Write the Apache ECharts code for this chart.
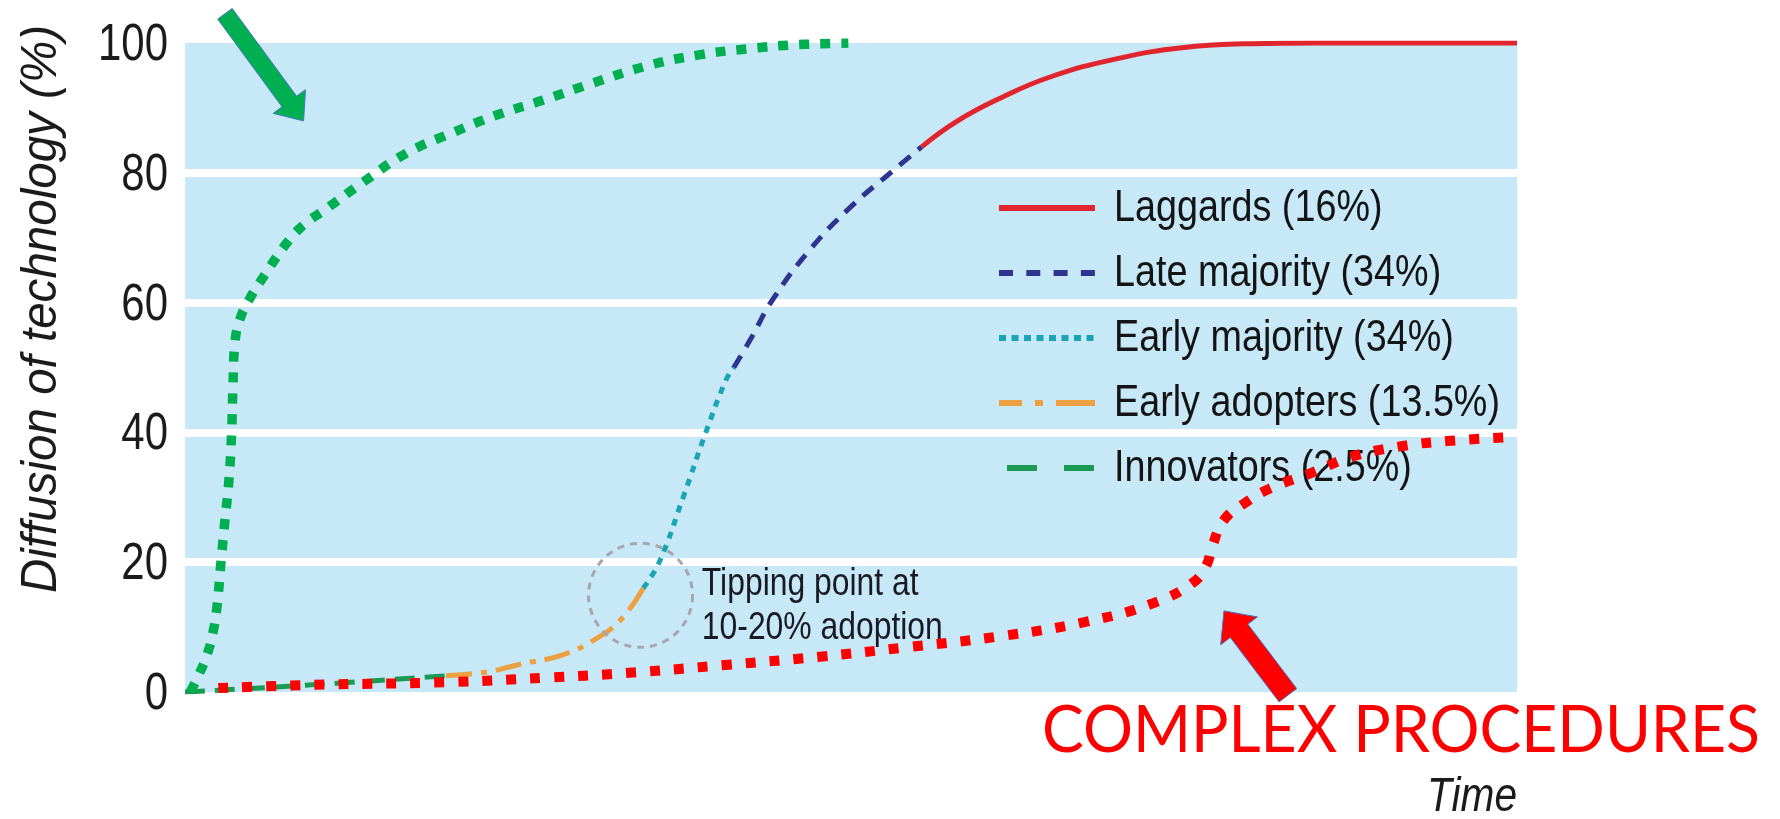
<!DOCTYPE html>
<html>
<head>
<meta charset="utf-8">
<script src="https://cdn.jsdelivr.net/npm/echarts@6/dist/echarts.min.js"></script>
<style>
  html, body { margin: 0; padding: 0; background: #ffffff; }
  #chart { width: 1780px; height: 819px; }
</style>
</head>
<body>
<div id="chart"></div>
<script>
// Diffusion of innovation curve, split by adopter category, with two overlaid
// adoption paths: a fast one (green) and a slow one for complex procedures (red).

const SANS = '"Liberation Sans", Arial, sans-serif';
const CALLOUT = 'Lato, "Open Sans", sans-serif';

const yTicks = [0, 20, 40, 60, 80, 100];

// Adopter categories (segments of the cumulative S-curve), x = time (0-100), y = % adoption
const innovators     = [[0, 0], [9.5, 1.1], [19.6, 2.5]];
const earlyAdopters  = [[19.6, 2.5], [22.7, 3.1], [25.0, 4.2], [28.3, 5.7], [30.7, 8.0], [32.7, 11.1], [34.4, 16]];
const earlyMajority  = [[34.4, 16], [35.6, 20], [37.4, 30], [39.1, 40], [40.6, 48], [41.2, 50]];
const lateMajority   = [[41.2, 50], [42.5, 54.5], [44.1, 60.4], [46.9, 68.1], [49.9, 74.6], [53.2, 80.4], [55.3, 84]];
const laggards       = [[55.3, 84], [58, 88], [61.2, 91.5], [65, 94.8], [70, 97.6], [75, 99.3], [80, 99.9], [85, 100], [100, 100]];

const categoryNames = ['Innovators (2.5%)', 'Early adopters (13.5%)', 'Early majority (34%)', 'Late majority (34%)', 'Laggards (16%)'];
const categoryColors = ['#1a9a52', '#eca042', '#1ba4b6', '#2e3590', '#e1252f'];

// Fast adoption path
const fastAdoption = [[0.4, 0], [1.0, 2.5], [1.65, 5.7], [2.1, 9.2], [2.4, 13.1], [2.7, 20], [3.0, 26.5], [3.3, 32.7],
  [3.5, 40], [3.6, 47], [3.75, 53.8], [4.1, 57.3], [4.8, 60.4], [5.9, 64], [7.8, 69.6], [9.1, 72.3], [10.5, 74.3],
  [13.4, 78.6], [16.6, 83], [20, 86.1], [23.4, 88.9], [26.9, 91.2], [30.3, 93.6], [34.9, 96.6], [38.7, 98.2],
  [42.2, 99.1], [45.6, 99.7], [49.8, 100]];

// Slow adoption path (complex procedures)
const complexAdoption = [[2.5, 0.6], [9.5, 1.1], [19.6, 1.5], [27, 2.2], [33.0, 2.9], [40.8, 4.2], [47.5, 5.4],
  [54.2, 6.9], [60.9, 8.5], [67.6, 10.8], [72.7, 13.7], [75.7, 16.9], [76.7, 19.6], [77.1, 22.3], [78.0, 26.5],
  [79.7, 29.3], [81.5, 31.4], [84.5, 33.7], [87.5, 36.2], [91.1, 37.8], [95.0, 38.7], [100, 39.3]];

// Annotation anchors in data coordinates
const tippingPoint = [34.2, 14.9];
const tippingLabelAt = [38.8, 20];
const greenArrow = { tail: [3.0, 104.5], tip: [8.9, 88.0] };
const redArrow = { tail: [82.8, -0.5], tip: [78.0, 12.5] };

// Key entries, top to bottom: category index and the dash pattern of its swatch
const keyOrder = [4, 3, 2, 1, 0];
const keyDash = [null, [14, 13.3], [7, 5.5], [23, 13, 8, 13, 40], [30, 27]];
const keyDashOffset = [0, 0, 0, 0, 49];

// Text measuring, used to set a condensed width for the narrow lettering
const measureCtx = document.createElement('canvas').getContext('2d');
function textWidth(text, font) { measureCtx.font = font; return measureCtx.measureText(text).width; }

const chart = echarts.init(document.getElementById('chart'), null, { renderer: 'canvas' });

function segment(i, data, type) {
  return {
    name: categoryNames[i], type: 'line', data: data, symbol: 'none', smooth: 0.45,
    z: 2, silent: true,
    lineStyle: { color: categoryColors[i], width: 5, type: type, cap: 'butt' },
    itemStyle: { color: categoryColors[i] }
  };
}

chart.setOption({
  animation: false,
  backgroundColor: '#ffffff',
  grid: { left: 185, right: 263, top: 43, bottom: 127, show: true, backgroundColor: '#c6e8f7', borderWidth: 0 },
  xAxis: {
    type: 'value', min: 0, max: 100,
    axisLine: { show: false }, axisTick: { show: false }, axisLabel: { show: false }, splitLine: { show: false }
  },
  yAxis: {
    type: 'value', min: yTicks[0], max: yTicks[yTicks.length - 1], interval: 20,
    axisLine: { show: false }, axisTick: { show: false }, axisLabel: { show: false },
    splitLine: { show: true, showMinLine: false, showMaxLine: false, lineStyle: { color: '#ffffff', width: 8 } }
  },
  series: [
    segment(0, innovators, [20, 10]),
    segment(1, earlyAdopters, [26, 9, 6, 9]),
    segment(2, earlyMajority, [7, 7]),
    segment(3, lateMajority, [14, 10]),
    segment(4, laggards, 'solid'),
    {
      name: 'fast', type: 'line', data: fastAdoption, symbol: 'none', smooth: 0.45, z: 6, silent: true,
      lineStyle: { color: '#00b050', width: 9.5, type: [10, 11], cap: 'butt' }
    },
    {
      name: 'complex', type: 'line', data: complexAdoption, symbol: 'none', smooth: 0.45, z: 7, silent: true,
      lineStyle: { color: '#ff0000', width: 10, type: [10, 14], cap: 'butt' }
    }
  ]
});

function arrowShape(tail, tip, shaftW, headW, headL) {
  const dx = tip[0] - tail[0], dy = tip[1] - tail[1];
  const len = Math.hypot(dx, dy);
  const ux = dx / len, uy = dy / len, nx = -uy, ny = ux;
  const bx = tip[0] - ux * headL, by = tip[1] - uy * headL;
  return [
    [tail[0] + nx * shaftW / 2, tail[1] + ny * shaftW / 2],
    [bx + nx * shaftW / 2, by + ny * shaftW / 2],
    [bx + nx * headW / 2, by + ny * headW / 2],
    [tip[0], tip[1]],
    [bx - nx * headW / 2, by - ny * headW / 2],
    [bx - nx * shaftW / 2, by - ny * shaftW / 2],
    [tail[0] - nx * shaftW / 2, tail[1] - ny * shaftW / 2]
  ];
}

const px = (p) => chart.convertToPixel({ gridIndex: 0 }, p);
const gridRect = chart.getModel().getComponent('grid', 0).coordinateSystem.getRect();
const tp = px(tippingPoint);
const tl = px(tippingLabelAt);

// Condensed lettering: each text block gets a horizontal squeeze
const tickFont = '51px ' + SANS;
const tickScale = 70 / textWidth('100', tickFont);
const legendFont = '44px ' + SANS;
const legendScale = 386 / textWidth(categoryNames[1], legendFont);
const noteFont = '39px ' + SANS;
const noteScale = 241 / textWidth('10-20% adoption', noteFont);
const yNameFont = 'italic 50px ' + SANS;
const yName = 'Diffusion of technology (%)';
const yNameScale = 568 / textWidth(yName, yNameFont);
const xNameFont = 'italic 49px ' + SANS;
const xNameScale = 90 / textWidth('Time', xNameFont);
const calloutFont = '65px ' + CALLOUT;
const callout = 'COMPLEX PROCEDURES';
const calloutScale = 718 / textWidth(callout, calloutFont);

const graphics = [];

yTicks.forEach((v) => {
  const p = px([0, v]);
  graphics.push({
    type: 'text', x: gridRect.x - 17, y: p[1] + 3, scaleX: tickScale, z: 5, silent: true,
    style: { text: String(v), font: tickFont, fill: '#1b1b1b', align: 'right', verticalAlign: 'middle' }
  });
});

// Key: swatch line plus label per adopter category
keyOrder.forEach((ci, row) => {
  const y = 208 + row * 65;
  graphics.push({
    type: 'line', z: 5, silent: true,
    shape: { x1: 999, y1: y, x2: 1095, y2: y },
    style: { stroke: categoryColors[ci], lineWidth: 6, lineDash: keyDash[row], lineDashOffset: keyDashOffset[row], lineCap: 'butt' }
  });
  graphics.push({
    type: 'text', x: 1114, y: y + 1, scaleX: legendScale, z: 5, silent: true,
    style: { text: categoryNames[ci], font: legendFont, fill: '#141414', align: 'left', verticalAlign: 'middle' }
  });
});

graphics.push(
  {
    type: 'circle', shape: { cx: tp[0], cy: tp[1], r: 52 }, z: 5, silent: true,
    style: { fill: 'none', stroke: '#a6a6ac', lineWidth: 3, lineDash: [7, 6] }
  },
  {
    type: 'text', x: tl[0], y: tl[1], scaleX: noteScale, z: 5, silent: true,
    style: { text: 'Tipping point at\n10-20% adoption', font: noteFont, lineHeight: 44,
      fill: '#1a1a24', align: 'left', verticalAlign: 'top' }
  },
  {
    type: 'polygon', z: 8, silent: true,
    shape: { points: arrowShape(px(greenArrow.tail), px(greenArrow.tip), 18, 40, 24) },
    style: { fill: '#00b050', stroke: '#4472c4', lineWidth: 1 }
  },
  {
    type: 'polygon', z: 8, silent: true,
    shape: { points: arrowShape(px(redArrow.tail), px(redArrow.tip), 22, 46, 25) },
    style: { fill: '#ff0000', stroke: '#4472c4', lineWidth: 1 }
  },
  {
    type: 'text', x: 42, y: 309, rotation: Math.PI / 2, scaleX: yNameScale, z: 5, silent: true,
    style: { text: yName, font: yNameFont, fill: '#1b1b1b', align: 'center', verticalAlign: 'middle' }
  },
  {
    type: 'text', x: gridRect.x + gridRect.width, y: 797, scaleX: xNameScale, z: 5, silent: true,
    style: { text: 'Time', font: xNameFont, fill: '#1b1b1b', align: 'right', verticalAlign: 'middle' }
  },
  {
    type: 'text', x: 1042, y: 731, scaleX: calloutScale, z: 9, silent: true,
    style: { text: callout, font: calloutFont, fill: '#ff0000', align: 'left', verticalAlign: 'middle' }
  }
);

chart.setOption({ graphic: graphics });
</script>
</body>
</html>
